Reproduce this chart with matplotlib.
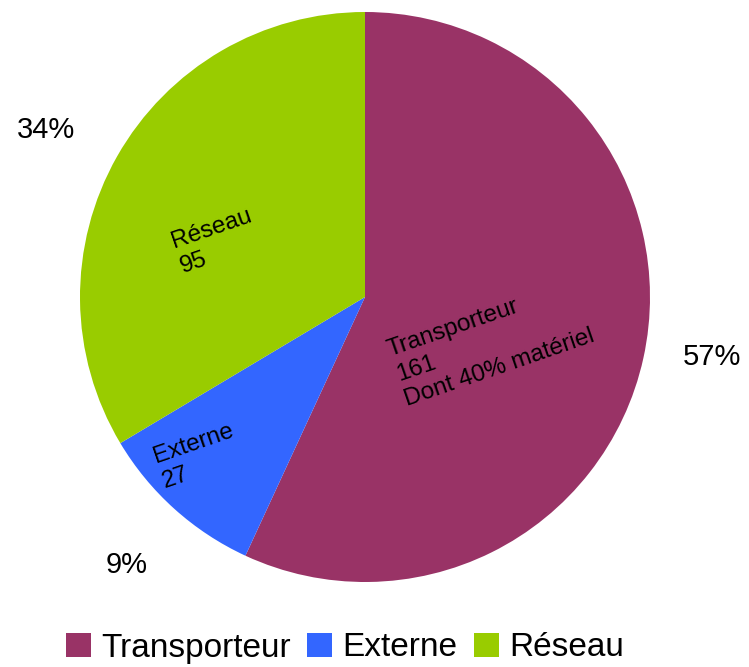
import matplotlib
matplotlib.use('Agg')
import matplotlib.pyplot as plt
from matplotlib.patches import Patch

plt.rcParams['font.family'] = ['Liberation Sans', 'DejaVu Sans']

# data
categories = ['Transporteur', 'Externe', 'Réseau']
values = [161, 27, 95]
pct_labels = ['57%', '9%', '34%']
inner_labels = ['Transporteur\n161\nDont 40% matériel', 'Externe\n27', 'Réseau\n95']
colors = ['#993366', '#3366FF', '#99CC00']

W, H = 749, 667
fig = plt.figure(figsize=(W / 100, H / 100), dpi=100)
ax = fig.add_axes([0, 0, 1, 1])

cx, cy, r = 365, H - 297, 285
ax.pie(values, colors=colors, startangle=90, counterclock=False,
       center=(cx, cy), radius=r, frame=True,
       wedgeprops=dict(linewidth=0))
ax.set_xlim(0, W)
ax.set_ylim(0, H)
ax.set_aspect('equal')
ax.axis('off')

# labels inside the slices (rotated)
inner_pos = [(491, H - 343), (198, H - 456), (216, H - 241)]
for txt, (x, y) in zip(inner_labels, inner_pos):
    ax.text(x, y, txt, fontsize=17.5, rotation=19, rotation_mode='anchor',
            ha='center', va='center', multialignment='left', linespacing=1.25)

# percentages outside
pct_pos = [(712, H - 357), (127, H - 565), (46, H - 130)]
for txt, (x, y) in zip(pct_labels, pct_pos):
    ax.text(x, y, txt, fontsize=21, ha='center', va='center')

handles = [Patch(facecolor=c, edgecolor='none') for c in colors]
fig.legend(handles, categories, loc='center', bbox_to_anchor=(345 / W, 1 - 648 / H),
           ncol=3, frameon=False, fontsize=24, handlelength=0.75, handleheight=0.75,
           handletextpad=0.3, columnspacing=0.5, borderaxespad=0)

fig.savefig('out.png', dpi=100)
